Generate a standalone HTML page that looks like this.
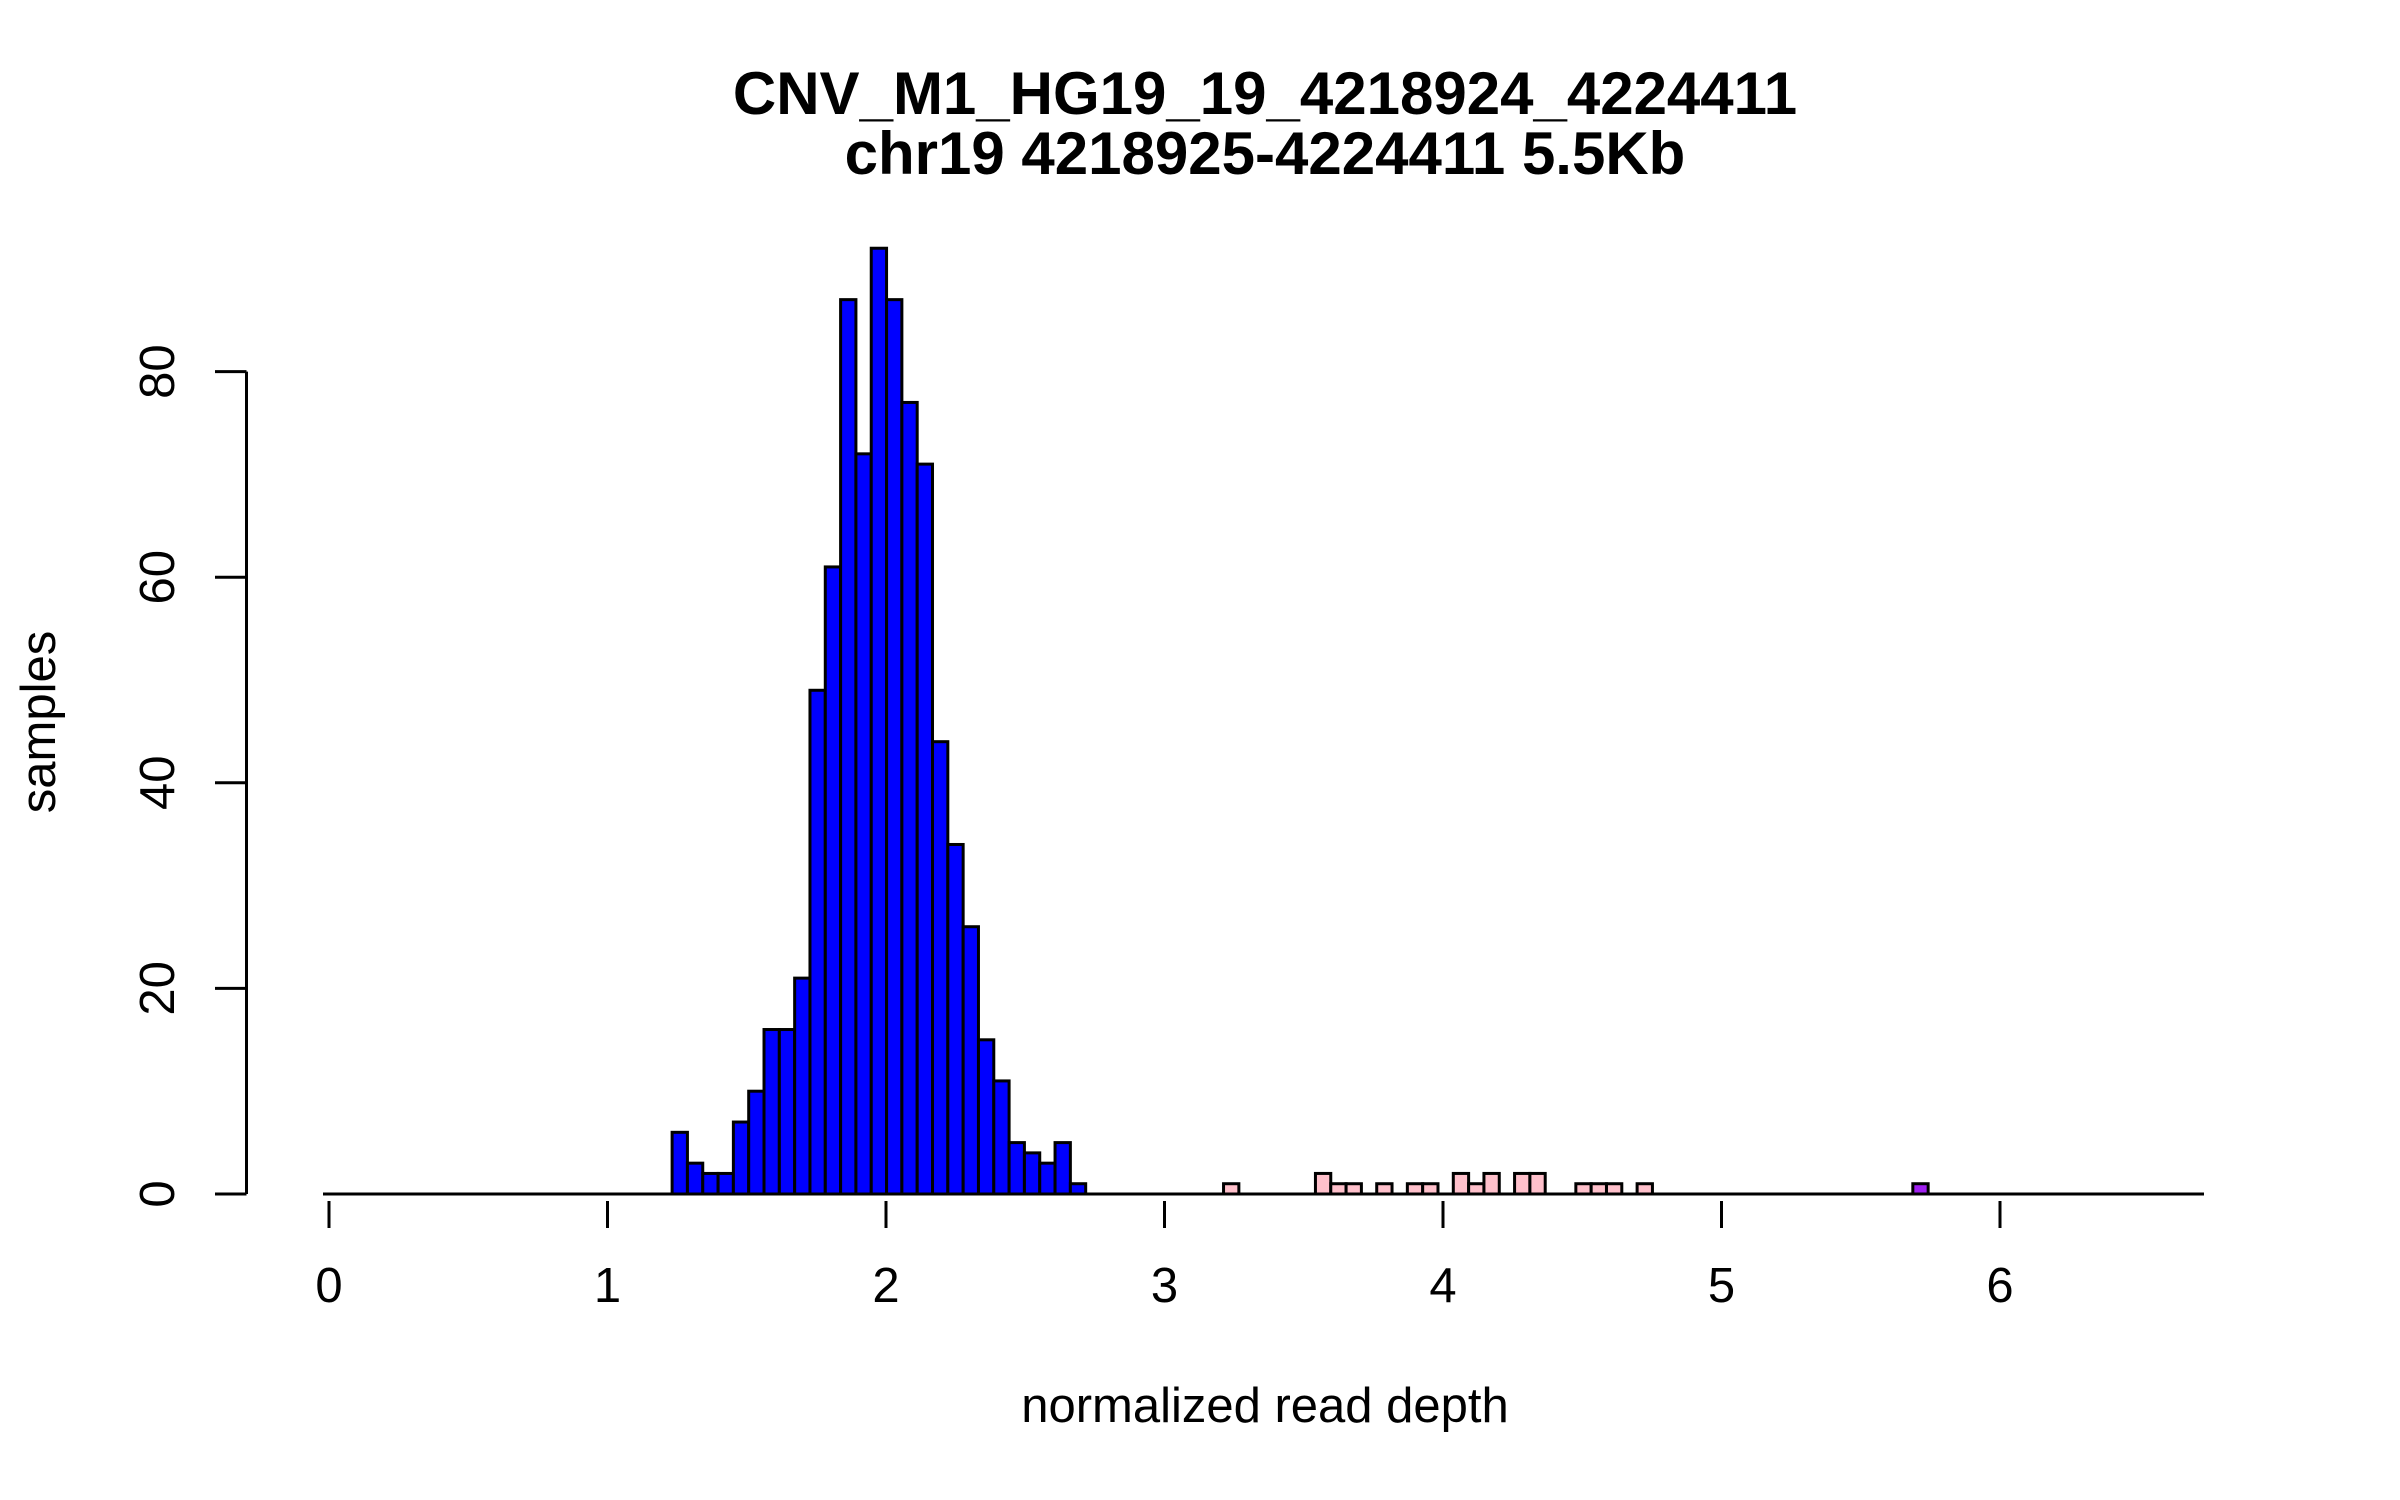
<!DOCTYPE html>
<html><head><meta charset="utf-8"><style>
html,body{margin:0;padding:0;background:#fff;}
svg{display:block;font-family:"Liberation Sans",sans-serif;}
</style></head><body>
<svg id="chart" width="2400" height="1500" viewBox="0 0 2400 1500">
<rect width="2400" height="1500" fill="#fff"/>
<text x="1265" y="114" font-size="60" font-weight="bold" text-anchor="middle">CNV_M1_HG19_19_4218924_4224411</text>
<text x="1265" y="174" font-size="60" font-weight="bold" text-anchor="middle">chr19 4218925-4224411 5.5Kb</text>
<text x="1265" y="1422" font-size="49" text-anchor="middle">normalized read depth</text>
<text x="0" y="0" font-size="49" text-anchor="middle" transform="translate(55,722) rotate(-90)">samples</text>
<g id="bars"></g>
<g id="axes"></g>
</svg>
<script>
const binStart = 1.232;
const binWidth = 0.055;
const blueCounts = [6,3,2,2,7,10,16,16,21,49,61,87,72,92,87,77,71,44,34,26,15,11,5,4,3,5,1];
const pinkBins = [36,42,43,44,46,48,49,51,52,53,55,56,59,60,61,63];
const pinkCounts = [1,2,1,1,1,1,1,2,1,2,2,2,1,1,1,1];
const purpleBins = [81];
const purpleCounts = [1];
const xTicks = [0,1,2,3,4,5,6];
const yTicks = [0,20,40,60,80];

const NS = "http://www.w3.org/2000/svg";
function xs(v){ return 329 + v * 278.5; }
function ys(v){ return 1194 - v * 10.28; }
const bars = document.getElementById('bars');
const axes = document.getElementById('axes');

function drawBar(idx, count, color, name){
  const x0 = xs(binStart + idx * binWidth);
  const x1 = xs(binStart + (idx + 1) * binWidth);
  const r = document.createElementNS(NS, 'rect');
  r.setAttribute('x', x0);
  r.setAttribute('y', ys(count));
  r.setAttribute('width', x1 - x0);
  r.setAttribute('height', ys(0) - ys(count));
  r.setAttribute('fill', color);
  r.setAttribute('stroke', '#000');
  r.setAttribute('stroke-width', '3');
  
  
  bars.appendChild(r);
}
blueCounts.forEach((c, i) => { if (c > 0) drawBar(i, c, '#0000ff', 'bar-normal'); });
pinkBins.forEach((b, i) => drawBar(b, pinkCounts[i], '#ffc0cb', 'bar-duplication'));
purpleBins.forEach((b, i) => drawBar(b, purpleCounts[i], '#a020f0', 'bar-high'));

function line(x1,y1,x2,y2,name){
  const l = document.createElementNS(NS, 'line');
  l.setAttribute('x1', x1); l.setAttribute('y1', y1);
  l.setAttribute('x2', x2); l.setAttribute('y2', y2);
  l.setAttribute('stroke', '#000'); l.setAttribute('stroke-width', '3');
  
  
  axes.appendChild(l);
}
function text(x,y,s,name,rot){
  const t = document.createElementNS(NS, 'text');
  t.setAttribute('font-size', '49');
  t.setAttribute('text-anchor', 'middle');
  if (rot) { t.setAttribute('transform', 'translate(' + x + ',' + y + ') rotate(-90)'); t.setAttribute('x', 0); t.setAttribute('y', 0); }
  else { t.setAttribute('x', x); t.setAttribute('y', y); }
  t.textContent = s;
  
  
  axes.appendChild(t);
}
line(323, ys(0), 2204, ys(0), 'x-baseline');
xTicks.forEach(v => {
  line(xs(v), 1201, xs(v), 1228, 'x-tick');
  text(xs(v), 1302, String(v), 'x-tick-label', false);
});
line(246.5, ys(yTicks[0]), 246.5, ys(yTicks[yTicks.length-1]), 'y-axis-line');
yTicks.forEach(v => {
  line(215, ys(v), 246.5, ys(v), 'y-tick');
  text(174, ys(v), String(v), 'y-tick-label', true);
});
</script>
</body></html>
